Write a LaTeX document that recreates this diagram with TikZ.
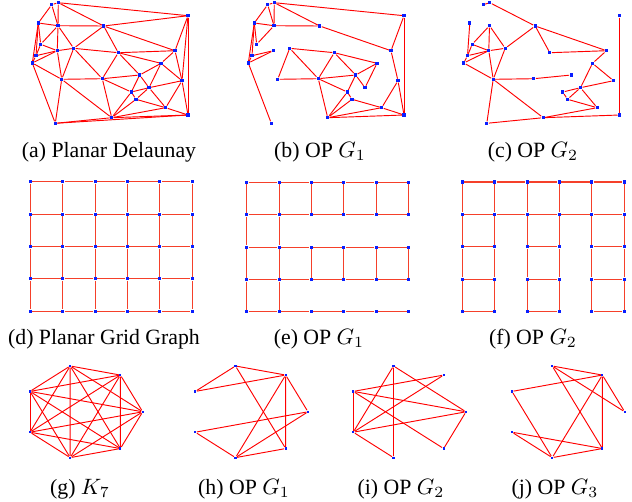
\documentclass[tikz,border=0pt]{standalone}
\usepackage{fontspec}
\setmainfont{Liberation Serif}
\usetikzlibrary{backgrounds}
\definecolor{edgered}{HTML}{FF0000}
\definecolor{gridred}{HTML}{F5402A}
\definecolor{vtxblue}{HTML}{0A1EFF}
% point set of the triangulation, shifted by #2
\newcommand{\delaunaypts}[2]{%
  \foreach \k/\px/\py in {1/51.7/4.7, 2/58.3/2.7, 3/188/15.7, 4/38.3/23,
      5/58/25.7, 6/103.7/26, 7/40.7/44.3, 8/57.3/50.7, 9/73.7/48.3,
      10/118.3/52.7, 11/175/50.7, 12/36/55.7, 13/32.3/63, 14/161/63.3,
      15/61.7/79.3, 16/102.3/78.7, 17/139.7/75, 18/182/80.7, 19/149/87.7,
      20/131.3/92, 21/136/99.3, 22/165.7/107.7, 23/188/115, 24/111.7/117.7,
      25/55.3/123.3}
    \node[vtx] (#1\k) at (#2+\px,\py) {};}
% 6x5 grid, corner at (#2,#3)
\newcommand{\gridpts}[3]{%
  \foreach \i in {0,...,5}
    \foreach \j in {0,...,4}
      \node[vtx] (#1\i\j) at (#2+32.4*\i,#3+32.4*\j) {};}
% seven points on an ellipse round (#2,411.8)
\newcommand{\heptpts}[2]{%
  \foreach \k in {0,...,6}
    \node[hvtx] (#1\k) at ({#2+59.3*cos(\k*360/7)},{411.8-47*sin(\k*360/7)}) {};}

\begin{document}
\begin{tikzpicture}[x=0.45pt, y=-0.45pt,
    vtx/.style={rectangle, fill=vtxblue, minimum size=1.4pt, inner sep=0pt},
    hvtx/.style={rectangle, fill=vtxblue, minimum size=1pt, inner sep=0pt},
    lnk/.style={edgered, line width=0.42pt},
    glnk/.style={gridred, line width=0.5pt},
    subcap/.style={font=\fontsize{9.8}{12}\selectfont, inner sep=0pt}]
  \useasboundingbox (0,0) rectangle (632,501);

  %% top row: triangulation and its two subgraphs
  \delaunaypts{a}{0}
  \delaunaypts{b}{216}
  \delaunaypts{c}{431.5}
  \begin{scope}[on background layer]
    \foreach \u/\v in {1/2, 2/3, 1/4, 1/5, 2/5, 2/6, 3/6, 4/5, 5/6, 4/7,
        4/12, 4/13, 5/7, 5/8, 5/9, 6/9, 6/10, 6/11, 3/11, 3/23, 3/18, 7/8,
        7/12, 8/12, 12/13, 8/13, 8/9, 9/10, 10/11, 8/15, 9/15, 9/16, 10/16,
        10/17, 10/14, 11/14, 11/18, 13/15, 13/25, 15/16, 15/25, 15/24, 16/24,
        16/17, 16/20, 14/17, 17/20, 17/19, 14/19, 14/18, 18/19, 18/22, 18/23,
        19/20, 19/21, 19/22, 20/21, 20/24, 21/24, 21/22, 22/23, 22/24, 23/24,
        24/25, 23/25}
      \draw[lnk] (a\u) -- (a\v);
    \foreach \u/\v in {1/2, 1/4, 1/5, 2/5, 2/3, 2/6, 4/5, 5/6, 6/11, 3/11,
        3/23, 11/18, 18/23, 4/7, 4/12, 4/13, 5/7, 12/8, 13/8, 12/13, 13/25,
        9/10, 9/15, 9/16, 15/16, 10/16, 10/17, 10/14, 14/17, 14/19, 17/19,
        16/17, 16/20, 16/24, 17/20, 20/24, 21/24, 20/21, 21/22, 22/24, 23/24,
        22/23, 18/22}
      \draw[lnk] (b\u) -- (b\v);
    \foreach \u/\v in {1/2, 2/6, 6/9, 6/10, 6/11, 10/11, 11/14, 14/18, 14/19,
        18/19, 19/20, 19/21, 19/22, 20/21, 21/22, 22/24, 24/23, 3/23, 15/24,
        15/16, 16/17, 15/25, 15/9, 15/8, 15/13, 5/8, 5/9, 5/7, 7/8, 7/12,
        12/8, 13/8, 8/9, 4/12, 12/13, 25/24}
      \draw[lnk] (c\u) -- (c\v);
  \end{scope}
  \node[subcap] (capa) at (109,152) {(a) Planar Delaunay};
  \node[subcap] (capb) at (320,152) {(b) OP $G_1$};
  \node[subcap] (capc) at (533,152) {(c) OP $G_2$};

  %% middle row: grid graph
  \gridpts{d}{30.3}{181.7}
  \gridpts{e}{246.7}{182.3}
  \gridpts{f}{462.3}{182}
  \begin{scope}[on background layer]
    \foreach \i in {0,...,5}
      \foreach \j [count=\jj] in {0,...,3}
        \draw[glnk] (d\i\j) -- (d\i\jj);
    \foreach \i [count=\ii] in {0,...,4}
      \foreach \j in {0,...,4}{
        \draw[glnk] (d\i\j) -- (d\ii\j);
        \draw[glnk] (e\i\j) -- (e\ii\j);}
    \foreach \i in {0,...,5}{
      \draw[glnk] (e\i0) -- (e\i1);
      \draw[glnk] (e\i2) -- (e\i3);}
    \foreach \i in {0,1}{
      \draw[glnk] (e\i1) -- (e\i2);
      \draw[glnk] (e\i3) -- (e\i4);}
    \foreach \i in {0,...,5}
      \foreach \j [count=\jj] in {0,...,3}
        \draw[glnk] (f\i\j) -- (f\i\jj);
    \foreach \i [count=\ii] in {0,...,4}{
      \draw[glnk] (f\i0) -- (f\ii0);
      \draw[glnk] (f\i1) -- (f\ii1);}
    \foreach \i/\ii in {0/1, 2/3, 4/5}
      \foreach \j in {2,3,4}
        \draw[glnk] (f\i\j) -- (f\ii\j);
  \end{scope}
  \node[subcap] (capd) at (104,339) {(d) Planar Grid Graph};
  \node[subcap] (cape) at (319,339) {(e) OP $G_1$};
  \node[subcap] (capf) at (533,339) {(f) OP $G_2$};

  %% bottom row: complete graph and three subgraphs
  \heptpts{g}{83.4}
  \heptpts{h}{248.7}
  \heptpts{i}{406.7}
  \heptpts{j}{565.4}
  \begin{scope}[on background layer]
    \foreach \u in {0,...,5}{
      \pgfmathtruncatemacro{\lo}{\u+1}
      \foreach \v in {\lo,...,6}
        \draw[lnk] (g\u) -- (g\v);}
    \foreach \u/\v in {3/2, 3/1, 2/1, 2/6, 1/6, 1/5, 1/0, 4/0, 4/5, 5/0, 5/6}
      \draw[lnk] (h\u) -- (h\v);
    \foreach \u/\v in {3/1, 3/0, 3/6, 3/4, 2/4, 2/5, 2/0, 1/4, 4/0, 4/5, 0/6}
      \draw[lnk] (i\u) -- (i\v);
    \foreach \u/\v in {2/1, 2/0, 2/6, 1/3, 1/0, 1/6, 1/5, 3/5, 4/6, 4/5, 5/6}
      \draw[lnk] (j\u) -- (j\v);
  \end{scope}
  \node[subcap] (capg) at (80,489) {(g) $K_7$};
  \node[subcap] (caph) at (244,489) {(h) OP $G_1$};
  \node[subcap] (capi) at (401,489) {(i) OP $G_2$};
  \node[subcap] (capj) at (555,489) {(j) OP $G_3$};
\end{tikzpicture}
\end{document}
